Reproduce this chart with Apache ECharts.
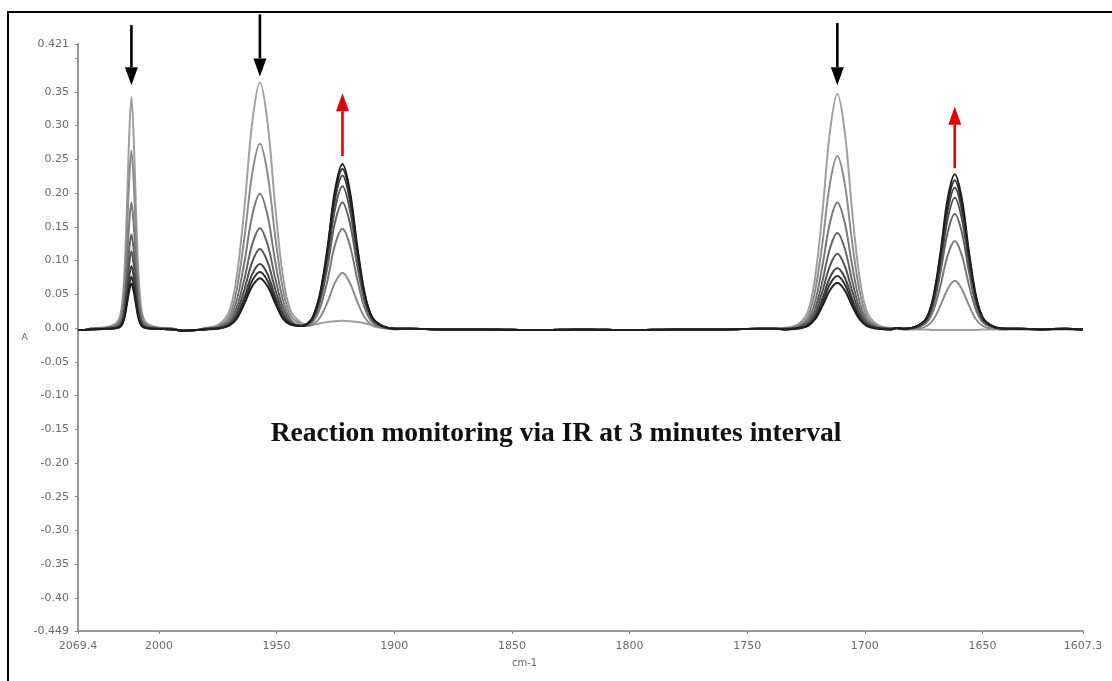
<!DOCTYPE html>
<html>
<head>
<meta charset="utf-8">
<script src="https://cdn.jsdelivr.net/npm/echarts@6/dist/echarts.min.js"></script>
<style>
html,body{margin:0;padding:0;background:#fff;}
#chart{width:1112px;height:681px;}
</style>
</head>
<body>
<div id="chart"></div>
<script>
// Wavenumbers (cm-1) at which the spectra were read
const waveNumbers = [2034.4, 2032.2,
  2029.2, 2021.7, 2017.95, 2016.1, 2014.8, 2013.7, 2012.7, 2011.7, 2010.7, 2009.7, 2008.6, 2007.3, 2005.45, 2001.7, 1994.2,
  1990, 1984,
  1980.5, 1974.7, 1970.1, 1966.9, 1963.6, 1960.35, 1957.1, 1953.85, 1950.6, 1947.35, 1944.1, 1939.6,
  1937.2,
  1934.6, 1931.5, 1928.3, 1925.2, 1922, 1918.9, 1915.7, 1912.6, 1909.4, 1905, 1899.3,
  1893, 1880, 1860, 1840, 1820, 1800, 1780, 1760, 1745, 1738,
  1734.4, 1728.7, 1724.3, 1721.15, 1718.0, 1714.85, 1711.7, 1708.55, 1705.4, 1702.25, 1699.1, 1694.7, 1689.0,
  1686.5,
  1683.4, 1678.0, 1673.8, 1670.8, 1667.8, 1664.8, 1661.8, 1658.8, 1655.8, 1652.8, 1649.8, 1645.6, 1640.2,
  1635, 1625, 1615, 1607.3];

// Absorbance of each scan (3 minute interval)
const scan0 = [-0.003, -0.003,
  -0.001, 0.002, 0.008, 0.025, 0.074, 0.170, 0.280, 0.343, 0.280, 0.170, 0.074, 0.025, 0.008, 0.002, -0.001,
  -0.004, -0.003,
  0.000, 0.005, 0.025, 0.078, 0.181, 0.305, 0.364, 0.305, 0.181, 0.078, 0.026, 0.008,
  0.006,
  0.005, 0.007, 0.009, 0.010, 0.011, 0.010, 0.009, 0.007, 0.004, 0.001, -0.001,
  -0.001, -0.002, -0.002, -0.003, -0.002, -0.003, -0.002, -0.002, -0.001, -0.001,
  0.000, 0.005, 0.024, 0.075, 0.173, 0.291, 0.347, 0.291, 0.173, 0.075, 0.024, 0.005, 0.000,
  -0.001,
  -0.002, -0.002, -0.002, -0.003, -0.003, -0.003, -0.003, -0.003, -0.003, -0.003, -0.002, -0.002, -0.002,
  -0.002, -0.003, -0.002, -0.003];
const scan1 = [-0.003, -0.003,
  -0.001, 0.001, 0.006, 0.019, 0.056, 0.131, 0.215, 0.263, 0.215, 0.131, 0.056, 0.019, 0.006, 0.001, -0.001,
  -0.004, -0.003,
  -0.001, 0.003, 0.018, 0.058, 0.136, 0.229, 0.273, 0.229, 0.136, 0.058, 0.019, 0.005,
  0.003,
  0.005, 0.016, 0.039, 0.067, 0.082, 0.067, 0.039, 0.016, 0.004, 0.000, -0.002,
  -0.001, -0.002, -0.002, -0.003, -0.002, -0.003, -0.002, -0.002, -0.001, -0.001,
  -0.001, 0.003, 0.017, 0.055, 0.127, 0.214, 0.255, 0.214, 0.127, 0.055, 0.017, 0.003, -0.001,
  0.000,
  -0.002, -0.001, 0.003, 0.013, 0.034, 0.058, 0.070, 0.058, 0.034, 0.013, 0.003, -0.001, -0.002,
  -0.001, -0.002, -0.001, -0.002];
const scan2 = [-0.003, -0.003,
  -0.001, 0.000, 0.004, 0.013, 0.039, 0.093, 0.152, 0.186, 0.152, 0.093, 0.039, 0.013, 0.004, 0.000, -0.001,
  -0.004, -0.003,
  -0.001, 0.002, 0.013, 0.042, 0.099, 0.167, 0.199, 0.167, 0.099, 0.042, 0.013, 0.004,
  0.004,
  0.009, 0.030, 0.072, 0.123, 0.147, 0.123, 0.072, 0.030, 0.009, 0.001, -0.001,
  -0.001, -0.002, -0.002, -0.003, -0.002, -0.003, -0.002, -0.002, -0.001, -0.001,
  -0.001, 0.002, 0.012, 0.039, 0.093, 0.156, 0.186, 0.156, 0.093, 0.039, 0.012, 0.002, -0.001,
  0.000,
  -0.001, 0.001, 0.008, 0.027, 0.064, 0.108, 0.129, 0.108, 0.064, 0.027, 0.008, 0.001, -0.001,
  -0.001, -0.002, -0.001, -0.002];
const scan3 = [-0.003, -0.003,
  -0.001, 0.000, 0.002, 0.009, 0.029, 0.069, 0.114, 0.139, 0.114, 0.069, 0.029, 0.009, 0.002, 0.000, -0.001,
  -0.004, -0.003,
  -0.001, 0.001, 0.009, 0.031, 0.074, 0.124, 0.148, 0.124, 0.074, 0.031, 0.010, 0.003,
  0.005,
  0.012, 0.039, 0.092, 0.156, 0.186, 0.156, 0.092, 0.039, 0.012, 0.002, -0.001,
  -0.001, -0.002, -0.002, -0.003, -0.002, -0.003, -0.002, -0.002, -0.001, -0.001,
  -0.001, 0.001, 0.009, 0.029, 0.070, 0.118, 0.141, 0.118, 0.070, 0.029, 0.009, 0.001, -0.001,
  0.000,
  -0.001, 0.001, 0.011, 0.035, 0.084, 0.142, 0.169, 0.142, 0.084, 0.035, 0.011, 0.001, -0.001,
  -0.001, -0.002, -0.001, -0.002];
const scan4 = [-0.003, -0.003,
  -0.002, -0.001, 0.001, 0.007, 0.023, 0.057, 0.093, 0.114, 0.093, 0.057, 0.023, 0.007, 0.001, -0.001, -0.002,
  -0.004, -0.003,
  -0.001, 0.000, 0.007, 0.024, 0.058, 0.098, 0.117, 0.098, 0.058, 0.024, 0.008, 0.003,
  0.005,
  0.014, 0.044, 0.104, 0.176, 0.210, 0.176, 0.104, 0.044, 0.014, 0.002, -0.001,
  -0.001, -0.002, -0.002, -0.003, -0.002, -0.003, -0.002, -0.002, -0.001, -0.001,
  -0.001, 0.000, 0.006, 0.023, 0.055, 0.092, 0.110, 0.092, 0.055, 0.023, 0.006, 0.000, -0.001,
  0.000,
  -0.001, 0.002, 0.012, 0.041, 0.096, 0.162, 0.193, 0.162, 0.096, 0.041, 0.012, 0.002, -0.001,
  -0.001, -0.002, -0.001, -0.002];
const scan5 = [-0.003, -0.003,
  -0.002, -0.001, 0.001, 0.005, 0.018, 0.046, 0.075, 0.092, 0.075, 0.046, 0.018, 0.005, 0.001, -0.001, -0.002,
  -0.004, -0.003,
  -0.002, 0.000, 0.005, 0.019, 0.047, 0.080, 0.095, 0.080, 0.047, 0.019, 0.007, 0.003,
  0.005,
  0.015, 0.048, 0.112, 0.190, 0.226, 0.190, 0.112, 0.048, 0.015, 0.003, -0.001,
  -0.001, -0.002, -0.002, -0.003, -0.002, -0.003, -0.002, -0.002, -0.001, -0.001,
  -0.002, 0.000, 0.005, 0.018, 0.044, 0.075, 0.089, 0.075, 0.044, 0.018, 0.005, 0.000, -0.002,
  0.000,
  -0.001, 0.002, 0.014, 0.044, 0.104, 0.175, 0.208, 0.175, 0.104, 0.044, 0.014, 0.002, -0.001,
  -0.001, -0.002, -0.001, -0.002];
const scan6 = [-0.003, -0.003,
  -0.002, -0.001, 0.000, 0.004, 0.015, 0.038, 0.062, 0.076, 0.062, 0.038, 0.015, 0.004, 0.000, -0.001, -0.002,
  -0.004, -0.003,
  -0.002, 0.000, 0.004, 0.016, 0.041, 0.070, 0.083, 0.070, 0.041, 0.016, 0.006, 0.003,
  0.005,
  0.016, 0.050, 0.117, 0.198, 0.236, 0.198, 0.117, 0.050, 0.016, 0.003, -0.001,
  -0.001, -0.002, -0.002, -0.003, -0.002, -0.003, -0.002, -0.002, -0.001, -0.001,
  -0.002, 0.000, 0.004, 0.015, 0.038, 0.065, 0.077, 0.065, 0.038, 0.015, 0.004, 0.000, -0.002,
  0.000,
  -0.001, 0.002, 0.014, 0.046, 0.109, 0.184, 0.219, 0.184, 0.109, 0.046, 0.014, 0.002, -0.001,
  -0.001, -0.002, -0.001, -0.002];
const scan7 = [-0.003, -0.003,
  -0.002, -0.001, 0.000, 0.003, 0.013, 0.033, 0.054, 0.066, 0.054, 0.033, 0.013, 0.003, 0.000, -0.001, -0.002,
  -0.004, -0.003,
  -0.002, -0.001, 0.004, 0.014, 0.037, 0.062, 0.074, 0.062, 0.037, 0.014, 0.005, 0.003,
  0.006,
  0.016, 0.052, 0.121, 0.204, 0.243, 0.204, 0.121, 0.052, 0.016, 0.003, -0.001,
  -0.001, -0.002, -0.002, -0.003, -0.002, -0.003, -0.002, -0.002, -0.001, -0.001,
  -0.002, -0.001, 0.003, 0.013, 0.033, 0.056, 0.067, 0.056, 0.033, 0.013, 0.003, -0.001, -0.002,
  0.000,
  -0.001, 0.003, 0.015, 0.048, 0.114, 0.192, 0.228, 0.192, 0.114, 0.048, 0.015, 0.003, -0.001,
  -0.001, -0.002, -0.001, -0.002];

const scans = [scan0, scan1, scan2, scan3, scan4, scan5, scan6, scan7];
const scanColors = ['#a0a0a0', '#8c8c8c', '#787878', '#656565', '#535353', '#414141', '#2f2f2f', '#1e1e1e'];

// Axis ticks and labels
const xTickValues = [2034.4, 2000, 1950, 1900, 1850, 1800, 1750, 1700, 1650, 1607.3];
const xTickLabels = ['2069.4', '2000', '1950', '1900', '1850', '1800', '1750', '1700', '1650', '1607.3'];
const yTickValues = [0.421, 0.40, 0.35, 0.30, 0.25, 0.20, 0.15, 0.10, 0.05, 0.00, -0.05, -0.10, -0.15, -0.20, -0.25, -0.30, -0.35, -0.40, -0.449];
const yTickLabels = ['0.421', '', '0.35', '0.30', '0.25', '0.20', '0.15', '0.10', '0.05', '0.00', '-0.05', '-0.10', '-0.15', '-0.20', '-0.25', '-0.30', '-0.35', '-0.40', '-0.449'];

// Annotation arrows (wavenumber, start absorbance, tip absorbance)
const arrowX = [2011.7, 1957.1, 1711.7, 1922.0, 1661.8];
const arrowFrom = [0.449, 0.465, 0.452, 0.255, 0.237];
const arrowTo = [0.360, 0.373, 0.360, 0.348, 0.328];
const arrowColors = ['#000000', '#000000', '#000000', '#e00000', '#e00000'];

const titleText = 'Reaction monitoring via IR at 3 minutes interval';

function labelFor(values, labels, v) {
  for (let i = 0; i < values.length; i++) {
    if (Math.abs(values[i] - v) < 1e-6) return labels[i];
  }
  return '';
}

const chart = echarts.init(document.getElementById('chart'), null, {renderer: 'canvas'});

const series = scans.map((s, k) => ({
  type: 'line',
  name: 'scan ' + k,
  data: waveNumbers.map((x, i) => [x, s[i]]),
  showSymbol: false,
  smooth: 0.35,
  lineStyle: {color: scanColors[k], width: 2},
  itemStyle: {color: scanColors[k]},
  z: 2 + k
}));

chart.setOption({
  animation: false,
  backgroundColor: '#ffffff',
  title: {
    text: titleText,
    left: 'center',
    top: 415,
    textStyle: {fontFamily: 'Liberation Serif', fontWeight: 'bold', fontSize: 27.5, color: '#111'}
  },
  grid: {left: 78, right: 29, top: 44, bottom: 50, containLabel: false},
  xAxis: {
    type: 'value',
    inverse: true,
    min: 1607.3,
    max: 2034.4,
    name: 'cm-1',
    nameLocation: 'middle',
    nameGap: 27,
    nameTextStyle: {fontFamily: 'DejaVu Sans', fontSize: 10, color: '#666', padding: [0, 112, 0, 0]},
    axisLine: {onZero: false, lineStyle: {color: '#9a9a9a', width: 2}},
    axisTick: {show: true, length: 3, lineStyle: {color: '#888'}, customValues: xTickValues},
    axisLabel: {
      customValues: xTickValues,
      margin: 10,
      fontFamily: 'DejaVu Sans', fontSize: 11, color: '#6b6b6b',
      formatter: v => labelFor(xTickValues, xTickLabels, v)
    },
    splitLine: {show: false}
  },
  yAxis: {
    type: 'value',
    min: -0.449,
    max: 0.421,
    name: 'A',
    nameLocation: 'middle',
    nameRotate: 0,
    nameGap: 50,
    nameTextStyle: {fontFamily: 'DejaVu Sans', fontSize: 9, color: '#666'},
    axisLine: {onZero: false, lineStyle: {color: '#9a9a9a', width: 2}},
    axisTick: {show: true, length: 3, lineStyle: {color: '#888'}, customValues: yTickValues},
    axisLabel: {
      customValues: yTickValues,
      margin: 9,
      fontFamily: 'DejaVu Sans', fontSize: 11, color: '#6b6b6b',
      formatter: v => labelFor(yTickValues, yTickLabels, v)
    },
    splitLine: {show: false}
  },
  series: series
});

function buildGraphics() {
  const g = [];
  // outer frame
  g.push({type: 'rect', shape: {x: 8, y: 12, width: 1140, height: 720}, style: {fill: 'none', stroke: '#000', lineWidth: 2}, silent: true, z: 100});
  for (let i = 0; i < arrowX.length; i++) {
    const p0 = chart.convertToPixel({gridIndex: 0}, [arrowX[i], arrowFrom[i]]);
    const p1 = chart.convertToPixel({gridIndex: 0}, [arrowX[i], arrowTo[i]]);
    const dir = p1[1] > p0[1] ? 1 : -1;
    const headLen = 18, headHalf = 6.5;
    const baseY = p1[1] - dir * headLen;
    g.push({type: 'line', shape: {x1: p0[0], y1: p0[1], x2: p1[0], y2: baseY}, style: {stroke: arrowColors[i], lineWidth: 2.6}, silent: true, z: 110});
    g.push({type: 'polygon', shape: {points: [[p1[0], p1[1]], [p1[0] - headHalf, baseY], [p1[0] + headHalf, baseY]]}, style: {fill: arrowColors[i]}, silent: true, z: 110});
  }
  return g;
}
chart.setOption({graphic: buildGraphics()});
</script>
</body>
</html>
